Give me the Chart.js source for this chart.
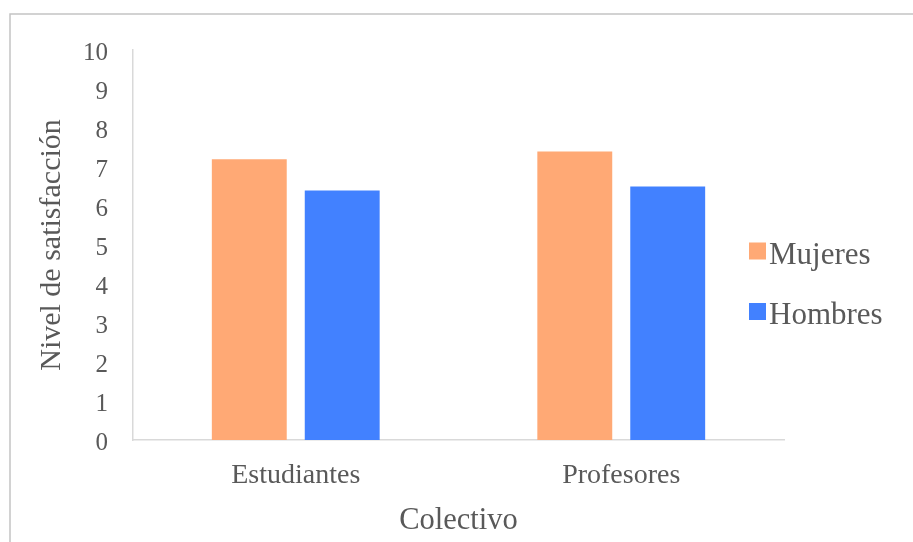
<!DOCTYPE html>
<html lang="es">
<head>
<meta charset="utf-8">
<title>Nivel de satisfacción por colectivo</title>
<script src="https://cdn.jsdelivr.net/npm/chart.js@4/dist/chart.umd.min.js"></script>
<style>
  html, body { margin: 0; padding: 0; background: #ffffff; }
  #wrap { width: 913px; height: 542px; position: relative; }
</style>
</head>
<body>
<div id="wrap"><canvas id="chart" width="913" height="542"></canvas></div>
<script>
// Categorías y valores medios de satisfacción
const categories = ['Estudiantes', 'Profesores'];
const mujeres = [7.2, 7.4];
const hombres = [6.4, 6.5];
const seriesNames = ['Mujeres', 'Hombres'];
const yTicks = [0, 1, 2, 3, 4, 5, 6, 7, 8, 9, 10];

const TEXT = '#595959';
const SERIF = '"Liberation Serif", "Times New Roman", serif';

// Marco gris alrededor del gráfico
const framePlugin = {
  id: 'frame',
  beforeDraw(chart) {
    const ctx = chart.ctx;
    ctx.save();
    ctx.fillStyle = '#ffffff';
    ctx.fillRect(0, 0, chart.width, chart.height);
    ctx.strokeStyle = '#c4c4c4';
    ctx.lineWidth = 1.5;
    ctx.strokeRect(10, 14, chart.width + 20, chart.height + 20);
    ctx.restore();
  }
};

// Leyenda a la derecha, superpuesta al área del gráfico
const sideLegend = {
  id: 'sideLegend',
  afterDraw(chart) {
    const ctx = chart.ctx;
    const rows = [255.5, 316];
    ctx.save();
    ctx.font = '31px ' + SERIF;
    ctx.textBaseline = 'middle';
    ctx.textAlign = 'left';
    chart.data.datasets.forEach((ds, i) => {
      const y = rows[i];
      ctx.fillStyle = ds.backgroundColor;
      ctx.fillRect(749, y - 13, 17, 17);
      ctx.fillStyle = TEXT;
      ctx.fillText(ds.label, 769, y);
    });
    ctx.restore();
  }
};

new Chart(document.getElementById('chart'), {
  type: 'bar',
  data: {
    labels: categories,
    datasets: [
      { label: seriesNames[0], data: mujeres, backgroundColor: '#FFA975',
        barPercentage: 0.806, categoryPercentage: 0.571 },
      { label: seriesNames[1], data: hombres, backgroundColor: '#4281FF',
        barPercentage: 0.806, categoryPercentage: 0.571 }
    ]
  },
  options: {
    responsive: false,
    animation: false,
    devicePixelRatio: 1,
    layout: { padding: { left: 0, right: 129, top: 50, bottom: 0 } },
    plugins: {
      legend: { display: false },
      tooltip: { enabled: false }
    },
    scales: {
      x: {
        afterFit(scale) { scale.height = 102; },
        grid: { display: false, drawTicks: false },
        border: { display: true, color: '#d9d9d9', width: 1.5 },
        ticks: { color: TEXT, font: { family: SERIF, size: 28 }, padding: 19 },
        title: {
          display: true, text: 'Colectivo', color: TEXT,
          font: { family: SERIF, size: 30.5 },
          padding: { top: 0, bottom: 3 }
        }
      },
      y: {
        min: 0, max: 10,
        afterFit(scale) { scale.width = 133; },
        afterBuildTicks(scale) { scale.ticks = yTicks.map(v => ({ value: v })); },
        grid: { display: false, drawTicks: false },
        border: { display: true, color: '#d9d9d9', width: 1.5 },
        ticks: { color: TEXT, font: { family: SERIF, size: 25 }, padding: 25, labelOffset: 3 },
        title: {
          display: true, text: 'Nivel de satisfacción', color: TEXT,
          font: { family: SERIF, size: 30 },
          padding: { top: 34, bottom: 0 }
        }
      }
    }
  },
  plugins: [framePlugin, sideLegend]
});
</script>
</body>
</html>
